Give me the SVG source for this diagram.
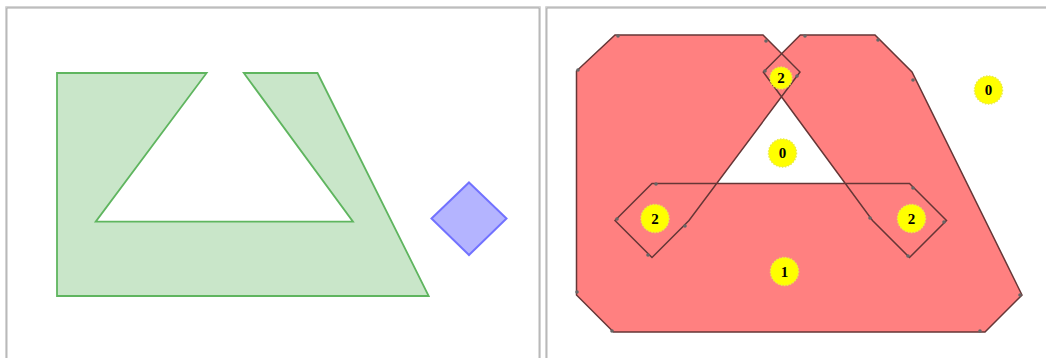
<svg xmlns="http://www.w3.org/2000/svg" width="1046" height="358" viewBox="0 0 1046 358">
  <style>
    .frameOuter { fill: none; stroke: #d4d4d4; stroke-width: 1; }
    .frameInner { fill: none; stroke: #a8a8a8; stroke-width: 1.2; }
    .green { fill: #c9e6c9; stroke: #5fb55f; stroke-width: 1.8; stroke-linejoin: miter; }
    .blue { fill: #b4b4ff; stroke: #7272ff; stroke-width: 2; }
    .red { fill: #ff8080; fill-rule: nonzero; stroke: #663636; stroke-width: 1.5; stroke-linejoin: miter; }
    .vdot { fill: #666666; }
    .badge { fill: #ffff00; stroke: #e9e94a; stroke-width: 1.5; stroke-dasharray: 1.5 1.5; }
    .lbl { font-family: "Liberation Serif", "DejaVu Serif", serif; font-weight: bold; font-size: 15px; fill: #000; text-anchor: middle; }
  </style>

  <rect width="1046" height="358" fill="#ffffff"/>

  <g id="frame-left">
    <path class="frameOuter" d="M5.5 360 V6.5 H540.5 V360"/>
    <path class="frameInner" d="M6.8 360 V7.8 H539.2 V360"/>
  </g>
  <g id="frame-right">
    <path class="frameOuter" d="M545.5 360 V6.5 H1047"/>
    <path class="frameInner" d="M546.8 360 V7.8 H1047"/>
  </g>

  <g id="green-polygon">
    <path class="green" d="M57 73 L206.6 73 L95.7 221.7 L353 221.7 L243.8 73 L317.5 73 L428.7 296 L57 296 Z"/>
  </g>

  <g id="blue-diamond">
    <path class="blue" d="M469 182.5 L506.5 218.5 L469 255 L431.5 218.5 Z"/>
  </g>

  <g id="minkowski-sum">
    <path class="red" d="M615 35 L763 35 L800 72 L689 220.5 L652 257.5 L615 220.5 L652 183.5 L909.5 183.5 L946.5 220.5 L909.5 257.5 L872.5 220.5 L763.3 72 L800.3 35 L875 35 L912 72 L1022 295 L985 332 L613.5 332 L576.5 295 L576.5 71 Z"/>
  </g>

  <g id="vertex-dots">
    <circle class="vdot" cx="618" cy="36" r="1.8"/>
    <circle class="vdot" cx="578" cy="70" r="1.8"/>
    <circle class="vdot" cx="766" cy="41" r="1.8"/>
    <circle class="vdot" cx="797" cy="76" r="1.8"/>
    <circle class="vdot" cx="685" cy="226" r="1.8"/>
    <circle class="vdot" cx="648" cy="255" r="1.8"/>
    <circle class="vdot" cx="617" cy="219" r="1.8"/>
    <circle class="vdot" cx="656" cy="184" r="1.8"/>
    <circle class="vdot" cx="913" cy="188" r="1.8"/>
    <circle class="vdot" cx="944" cy="222" r="1.8"/>
    <circle class="vdot" cx="908" cy="256" r="1.8"/>
    <circle class="vdot" cx="870" cy="218" r="1.8"/>
    <circle class="vdot" cx="765" cy="71" r="1.8"/>
    <circle class="vdot" cx="805" cy="36" r="1.8"/>
    <circle class="vdot" cx="878" cy="40" r="1.8"/>
    <circle class="vdot" cx="913" cy="80" r="1.8"/>
    <circle class="vdot" cx="1020" cy="295" r="1.8"/>
    <circle class="vdot" cx="980" cy="331" r="1.8"/>
    <circle class="vdot" cx="612" cy="331" r="1.8"/>
    <circle class="vdot" cx="577" cy="292" r="1.8"/>
  </g>

  <g id="label-top-2">
    <circle class="badge" cx="781" cy="78" r="11"/>
    <text class="lbl" x="781" y="83">2</text>
  </g>
  <g id="label-hole-0">
    <circle class="badge" cx="782.5" cy="153" r="14"/>
    <text class="lbl" x="782.5" y="158">0</text>
  </g>
  <g id="label-outside-0">
    <circle class="badge" cx="988.5" cy="90" r="14"/>
    <text class="lbl" x="988.5" y="95">0</text>
  </g>
  <g id="label-left-2">
    <circle class="badge" cx="655" cy="218.5" r="14"/>
    <text class="lbl" x="655" y="223.5">2</text>
  </g>
  <g id="label-right-2">
    <circle class="badge" cx="911.5" cy="218.5" r="14"/>
    <text class="lbl" x="911.5" y="223.5">2</text>
  </g>
  <g id="label-body-1">
    <circle class="badge" cx="784.5" cy="271.5" r="14"/>
    <text class="lbl" x="784.5" y="276.5">1</text>
  </g>
</svg>
